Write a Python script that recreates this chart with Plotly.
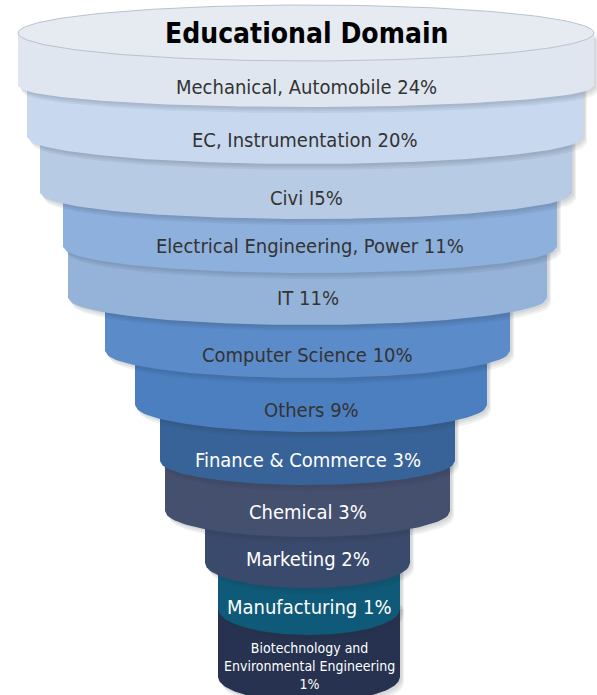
import numpy as np
import plotly.graph_objects as go

# ---------------- data ----------------
title_text = "Educational Domain"
categories = ["Mechanical, Automobile", "EC, Instrumentation", "Civi", "Electrical Engineering, Power",
              "IT", "Computer Science", "Others", "Finance & Commerce", "Chemical", "Marketing",
              "Manufacturing", "Biotechnology and Environmental Engineering"]
values = [24, 20, 5, 11, 11, 10, 9, 3, 3, 2, 1, 1]
display_labels = ["Mechanical, Automobile 24%", "EC, Instrumentation 20%", "Civi I5%",
                  "Electrical Engineering, Power 11%", "IT 11%", "Computer Science 10%", "Others 9%",
                  "Finance & Commerce 3%", "Chemical 3%", "Marketing 2%", "Manufacturing 1%",
                  "Biotechnology and<br>Environmental Engineering<br>1%"]

# ---------------- style / geometry (pixels of a 597x695 canvas) ----------------
W, H = 597, 695
left_x = [18, 27, 40, 63, 68, 105, 135, 160, 165, 205, 218, 218]
right_x = [594, 583, 572, 557, 547, 510, 487, 455, 450, 410, 400, 400]
edge_y = [86, 137, 193, 247, 298, 351, 405, 461, 511, 563, 609, 677]
sag = [21, 27, 26, 26, 27, 27, 27, 24, 26, 25, 26, 25]
label_y = [87, 140, 198, 246, 298, 355, 410, 460, 512, 559, 607, 666]
fills = ["#dfe6f0", "#c8d8ee", "#b8cbe4", "#8eb0dd", "#95b3d8", "#5b8bc9", "#4b7fc0",
         "#386398", "#454f6e", "#3a4a6c", "#0f5a78", "#26324f"]
text_colors = ["#333333"] * 7 + ["#ffffff"] * 5
font_sizes = [20] * 11 + [14]
disc_cy, disc_ry, disc_fill = 33, 28, "#e6ebf2"
FONT = "Liberation Sans Narrow, Arial Narrow, DejaVu Sans Condensed, sans-serif"

fig = go.Figure()
t = np.linspace(-1, 1, 121)


def layer_path(i, dx=0.0, dy=0.0):
    L, R = left_x[i], right_x[i]
    cx, hw = (L + R) / 2, (R - L) / 2
    top = disc_cy if i == 0 else edge_y[i - 1] - 6
    xs = cx + hw * t
    ys = edge_y[i] + sag[i] * np.sqrt(np.clip(1 - t ** 2, 0, 1))
    X = np.concatenate([[L], xs, [R, L]]) + dx
    Y = np.concatenate([[top], ys, [top, top]]) + dy
    return X, Y


n = len(values)
for i in range(n - 1, -1, -1):
    # soft drop shadow
    for k, (dx, dy) in enumerate([(4, 6), (3, 4), (2, 2)]):
        X, Y = layer_path(i, dx, dy)
        fig.add_trace(go.Scatter(x=X, y=Y, mode="lines", fill="toself",
                                 fillcolor="rgba(40,50,70,0.07)", line=dict(width=0),
                                 hoverinfo="skip", showlegend=False))
    X, Y = layer_path(i)
    fig.add_trace(go.Scatter(x=X, y=Y, mode="lines", fill="toself", fillcolor=fills[i],
                             line=dict(width=0, color=fills[i]), name=categories[i],
                             text=f"{categories[i]}: {values[i]}%", hoverinfo="text",
                             showlegend=False))

# top disc of the funnel
L0, R0 = left_x[0], right_x[0]
cx0, hw0 = (L0 + R0) / 2, (R0 - L0) / 2
ang = np.linspace(0, 2 * np.pi, 241)
fig.add_trace(go.Scatter(x=cx0 + hw0 * np.cos(ang), y=disc_cy + disc_ry * np.sin(ang),
                         mode="lines", fill="toself", fillcolor=disc_fill,
                         line=dict(width=1, color="#b9c2cf"), hoverinfo="skip", showlegend=False))

# labels
annotations = [dict(x=cx0, y=disc_cy, xref="x", yref="y", text=f"<b>{title_text}</b>",
                    showarrow=False, font=dict(family=FONT, size=28, color="#000000"))]
for i in range(n):
    cx = (left_x[i] + right_x[i]) / 2
    annotations.append(dict(x=cx, y=label_y[i], xref="x", yref="y", text=display_labels[i],
                            showarrow=False,
                            font=dict(family=FONT, size=font_sizes[i], color=text_colors[i])))

fig.update_layout(
    width=W, height=H, margin=dict(l=0, r=0, t=0, b=0),
    paper_bgcolor="#ffffff", plot_bgcolor="#ffffff",
    xaxis=dict(range=[0, W], visible=False, fixedrange=True),
    yaxis=dict(range=[H, 0], visible=False, fixedrange=True),
    annotations=annotations, showlegend=False,
)

fig.write_html("out.html", config={"displayModeBar": False},
               post_script="document.body.style.margin='0';document.body.style.overflow='hidden';")
